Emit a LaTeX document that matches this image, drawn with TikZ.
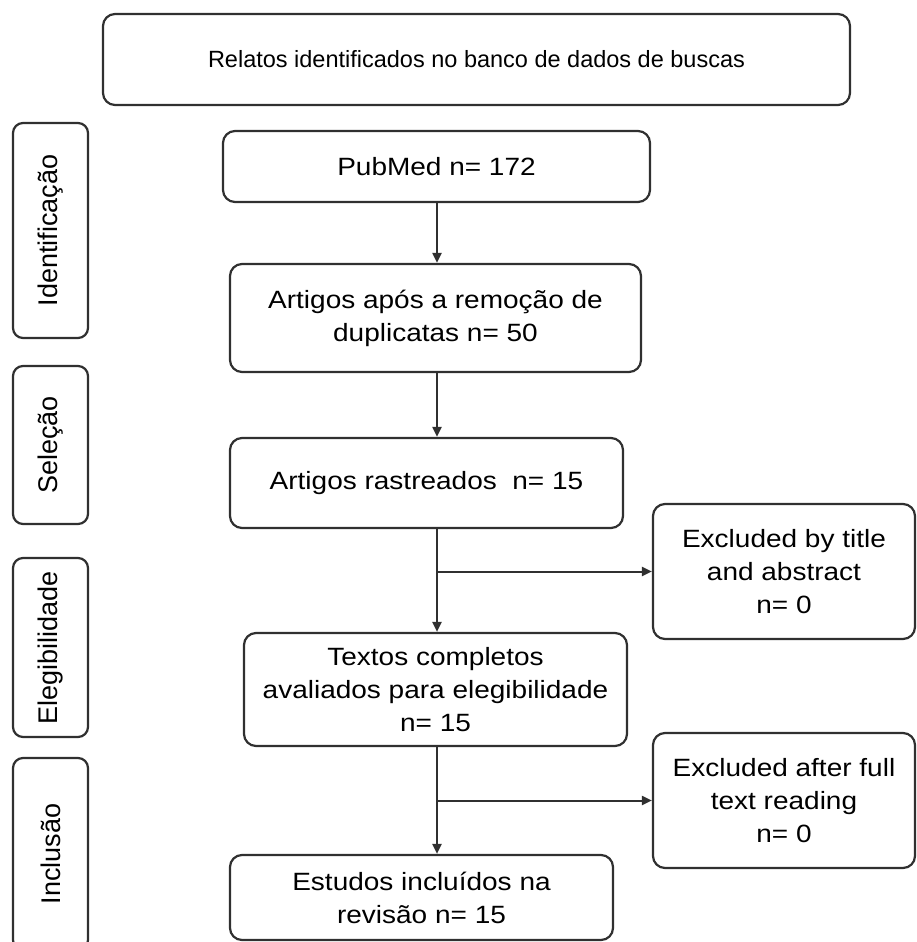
\documentclass[tikz,border=0pt]{standalone}
\usepackage{fontspec}
\setmainfont{Liberation Sans}
\newfontfamily\boxfont[FakeStretch=1.12]{Liberation Sans}
\usepackage{xcolor}
\usetikzlibrary{arrows.meta, positioning}
\definecolor{linegray}{HTML}{303030}

\begin{document}
\begin{tikzpicture}[
  x=1pt, y=-1pt,
  every node/.style={font=\fontsize{25}{33}\boxfont},
  box/.style={draw=linegray, line width=2.2pt, rectangle, rounded corners=12pt,
              align=center, inner sep=0pt},
  side/.style={draw=linegray, line width=2.2pt, rectangle, rounded corners=10pt,
               rotate=90, minimum height=75pt, inner sep=0pt,
               font=\fontsize{27}{33}\selectfont},
  arrow/.style={-{Triangle[length=10pt, width=9pt]}, line width=2pt, draw=linegray},
]
\clip (0,0) rectangle (917,942);
\coordinate (spine) at (437,0);

% search source
\node[box, minimum width=747pt, minimum height=91pt,
      font=\fontsize{23.5}{28}\selectfont] (busca) at (476.5,59.5)
  {Relatos identificados no banco de dados de buscas};

% phases
\node[side, minimum width=215pt] (ident) at (50.5,230.5) {Identificação};
\node[side, minimum width=158pt] (selec) at (50.5,445)   {Seleção};
\node[side, minimum width=179pt] (elegi) at (50.5,647.5) {Elegibilidade};
\node[side, minimum width=192pt] (inclu) at (50.5,854)   {Inclusão};

% main flow
\node[box, minimum width=427pt, minimum height=71pt]  (pubmed) at (436.5,166.5) {PubMed n= 172};
\node[box, minimum width=411pt, minimum height=108pt] (dupl)   at (435.5,318)
  {Artigos após a remoção de\\duplicatas n= 50};
\node[box, minimum width=393pt, minimum height=90pt]  (rastr)  at (426.5,483)
  {Artigos rastreados~ n= 15};
\node[box, minimum width=383pt, minimum height=113pt] (textos) at (435.5,689.5)
  {Textos completos\\avaliados para elegibilidade\\n= 15};
\node[box, minimum width=383pt, minimum height=85pt]  (estudos) at (421.5,897.5)
  {Estudos incluídos na\\revisão n= 15};

% exclusions
\node[box, minimum width=262pt, minimum height=135pt] (excl1) at (784,571.5)
  {Excluded by title\\and abstract\\n= 0};
\node[box, minimum width=262pt, minimum height=135pt] (excl2) at (784,800.5)
  {Excluded after full\\text reading\\n= 0};

\draw[arrow] (pubmed.south -| spine) -- (dupl.north -| spine);
\draw[arrow] (dupl.south -| spine)   -- (rastr.north -| spine);
\draw[arrow] (rastr.south -| spine)  -- (textos.north -| spine);
\draw[arrow] (excl1.west -| spine)   -- (excl1.west);
\draw[arrow] (textos.south -| spine) -- (estudos.north -| spine);
\draw[arrow] (excl2.west -| spine)   -- (excl2.west);
\end{tikzpicture}
\end{document}
